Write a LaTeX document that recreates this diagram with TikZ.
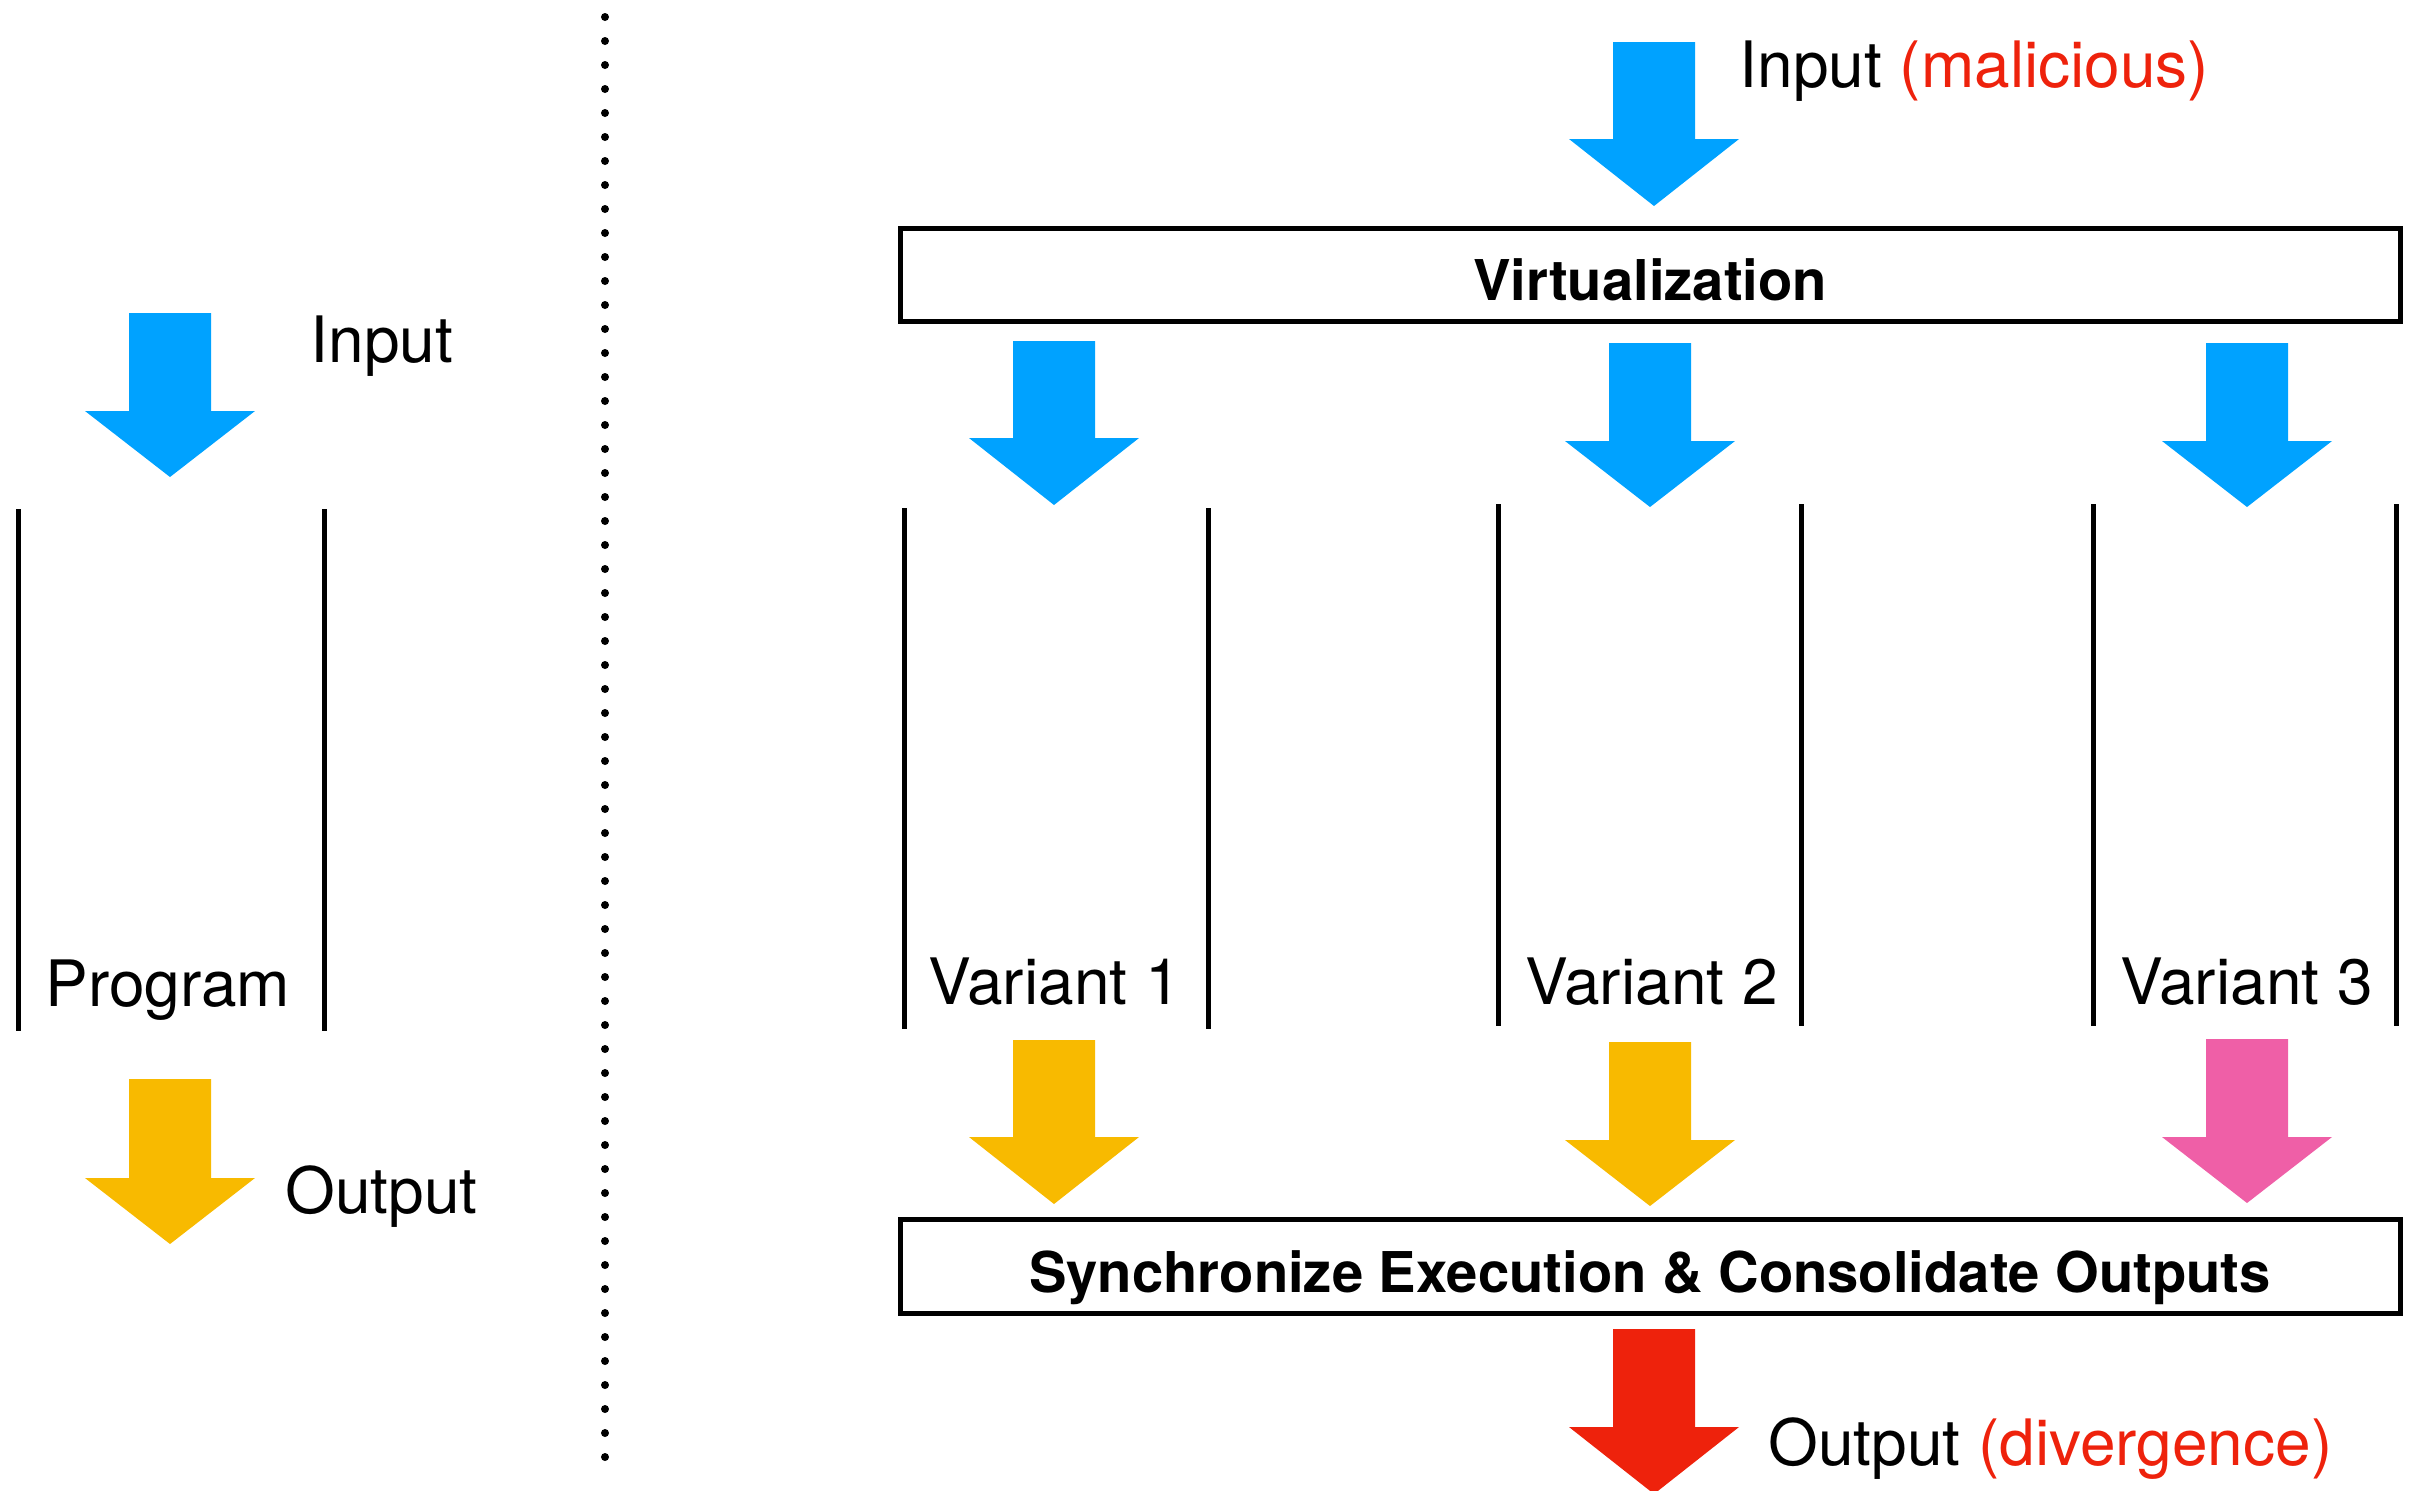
\documentclass[tikz,border=0pt]{standalone}
\usepackage{fontspec}
\setmainfont{TeX Gyre Heros}
\definecolor{inblue}{HTML}{00A2FF}
\definecolor{outyellow}{HTML}{F8BA00}
\definecolor{outpink}{HTML}{EF5FA7}
\definecolor{alertred}{HTML}{EE220C}
% fat downward arrow: centre x, shaft top, head start, tip, colour
\newcommand\fatarrow[5]{%
  \fill[#5] ({#1-41},#2) -- ({#1+41},#2) -- ({#1+41},#3) -- ({#1+85},#3)
    -- (#1,#4) -- ({#1-85},#3) -- ({#1-41},#3) -- cycle;}
\begin{document}
\begin{tikzpicture}[x=0.5pt,y=-0.5pt,
  lbl/.style={inner sep=0pt,anchor=base west,font=\fontsize{32}{36}\selectfont},
  boxlbl/.style={inner sep=0pt,anchor=base,font=\fontsize{28.1}{32}\selectfont\bfseries},
  stage/.style={draw,line width=2.5pt,minimum width=750pt,minimum height=46.75pt,inner sep=0pt},
  wall/.style={line width=2.5pt},
  sep/.style={line width=4pt,line cap=round,dash pattern=on 0pt off 12pt}]
\useasboundingbox (0,0) rectangle (2418,1490);

% ---- single program ----
\fatarrow{170}{313}{411}{477}{inblue}
\node[lbl] (inL) at (310,362) {Input};
\coordinate (pl1) at (18.5,509); \coordinate (pl2) at (18.5,1031);
\coordinate (pr1) at (324.5,509); \coordinate (pr2) at (324.5,1031);
\draw[wall] (pl1) -- (pl2);
\draw[wall] (pr1) -- (pr2);
\node[lbl] (prog) at (45,1006) {Program};
\fatarrow{170}{1079}{1178}{1244}{outyellow}
\node[lbl] (outL) at (285,1213) {Output};

% ---- separator ----
\coordinate (s1) at (605,17); \coordinate (s2) at (605,1460);
\draw[sep] (s1) -- (s2);

% ---- multi-variant execution ----
\fatarrow{1654}{42}{139}{206}{inblue}
\node[lbl] (inR) at (1739,87) {Input \textcolor{alertred}{(malicious)}};

\node[stage] (virt) at (1650.5,275) {};
\node[boxlbl] (virtlbl) at (1650,300) {Virtualization};

\fatarrow{1054}{341}{438}{505}{inblue}
\fatarrow{1650}{343}{441}{507}{inblue}
\fatarrow{2247}{343}{441}{507}{inblue}

\coordinate (a1) at (904.5,508);  \coordinate (a2) at (904.5,1029);
\coordinate (b1) at (1208,508);   \coordinate (b2) at (1208,1029);
\coordinate (c1) at (1498.5,504); \coordinate (c2) at (1498.5,1026);
\coordinate (d1) at (1801.5,504); \coordinate (d2) at (1801.5,1026);
\coordinate (e1) at (2093,504);   \coordinate (e2) at (2093,1026);
\coordinate (f1) at (2396,504);   \coordinate (f2) at (2396,1026);
\draw[wall] (a1) -- (a2); \draw[wall] (b1) -- (b2);
\draw[wall] (c1) -- (c2); \draw[wall] (d1) -- (d2);
\draw[wall] (e1) -- (e2); \draw[wall] (f1) -- (f2);

\node[lbl] (v1) at (928,1004) {Variant 1};
\node[lbl] (v2) at (1525,1004) {Variant 2};
\node[lbl] (v3) at (2120,1004) {Variant 3};

\fatarrow{1054}{1040}{1137}{1204}{outyellow}
\fatarrow{1650}{1042}{1140}{1206}{outyellow}
\fatarrow{2247}{1039}{1137}{1203}{outpink}

\node[stage] (sync) at (1650.5,1266.5) {};
\node[boxlbl] (synclbl) at (1650,1292) {Synchronize Execution \& Consolidate Outputs};

\fatarrow{1654}{1329}{1427}{1494}{alertred}
\node[lbl] (outR) at (1768,1465) {Output \textcolor{alertred}{(divergence)}};
\end{tikzpicture}
\end{document}
